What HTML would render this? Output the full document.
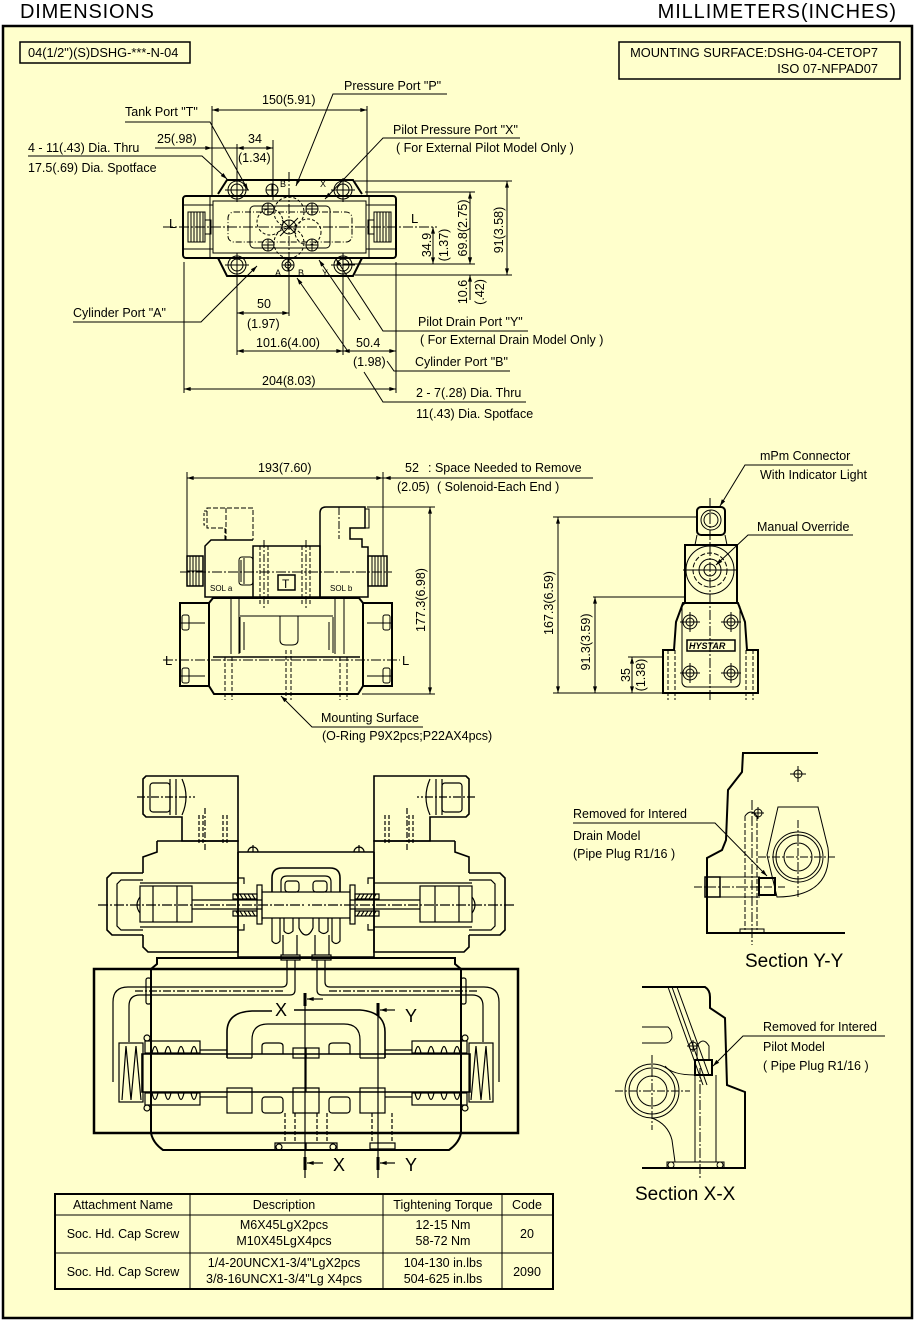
<!DOCTYPE html>
<html><head><meta charset="utf-8">
<style>
html,body{margin:0;padding:0;background:#fff;}
svg{display:block;font-family:"Liberation Sans",Arial,sans-serif;font-size:12.5px;}
text{fill:#000;stroke:none;}
</style></head><body>
<svg width="916" height="1325" viewBox="0 0 916 1325" xmlns="http://www.w3.org/2000/svg">
<defs>
<marker id="a" viewBox="0 0 10 6" refX="10" refY="3" markerWidth="9" markerHeight="4" markerUnits="userSpaceOnUse" orient="auto-start-reverse"><path d="M0,0 L10,3 L0,6 z" fill="#000"/></marker>
</defs>
<rect width="916" height="1325" fill="#fff"/>
<rect x="3" y="26" width="909" height="1292" fill="#FFFFCC" stroke="#000" stroke-width="2.5"/>
<text x="20" y="18" font-size="20" letter-spacing="0.8">DIMENSIONS</text>
<text x="897" y="18" font-size="20" text-anchor="end" letter-spacing="0.9">MILLIMETERS(INCHES)</text>

<!-- header boxes -->
<rect x="20" y="42" width="170" height="21" fill="none" stroke="#000" stroke-width="1.5"/>
<text x="28" y="57" font-size="12.8">04(1/2")(S)DSHG-***-N-04</text>
<rect x="619" y="42" width="281" height="37" fill="none" stroke="#000" stroke-width="1.5"/>
<text x="878" y="57" font-size="12.8" text-anchor="end">MOUNTING SURFACE:DSHG-04-CETOP7</text>
<text x="878" y="73" font-size="12.8" text-anchor="end">ISO 07-NFPAD07</text>

<!-- ================= TOP VIEW ================= -->
<g fill="none" stroke="#000" stroke-width="1">
 <path d="M218,194 L227,180 H353 L362,194" stroke-width="2"/>
 <path d="M218,258 L227,276 H353 L362,258" stroke-width="2"/>
 <rect x="183" y="196" width="213" height="62" rx="3" stroke-width="2"/>
 <rect x="213" y="201" width="153" height="52"/>
 <line x1="210" y1="196" x2="210" y2="258"/>
 <line x1="369" y1="196" x2="369" y2="258"/>
 <line x1="183" y1="205" x2="213" y2="205"/><line x1="183" y1="249" x2="213" y2="249"/>
 <line x1="366" y1="205" x2="396" y2="205"/><line x1="366" y1="249" x2="396" y2="249"/>
 <rect x="188" y="212" width="17" height="30"/>
 <path d="M191,212V242M194,212V242M197,212V242M200,212V242M203,212V242"/>
 <rect x="374" y="212" width="17" height="30"/>
 <path d="M377,212V242M380,212V242M383,212V242M386,212V242M389,212V242"/>
 <rect x="205" y="220" width="6" height="14"/><rect x="368" y="220" width="6" height="14"/>
 <rect x="228" y="212" width="124" height="30" rx="6" stroke-dasharray="6 2 1 2"/>
 <rect x="250" y="206" width="80" height="42" rx="4"/>
 <circle cx="237" cy="190" r="9"/><circle cx="237" cy="190" r="6"/>
 <circle cx="343" cy="190" r="9"/><circle cx="343" cy="190" r="6"/>
 <circle cx="237" cy="265" r="9"/><circle cx="237" cy="265" r="6"/>
 <circle cx="343" cy="265" r="9"/><circle cx="343" cy="265" r="6"/>
 <path d="M225,190H249M237,178V202M331,190H355M343,178V202M225,265H249M237,253V277M331,265H355M343,253V277"/>
 <circle cx="289" cy="212" r="15" stroke-dasharray="3 2"/>
 <circle cx="289" cy="243" r="15" stroke-dasharray="3 2"/>
 <circle cx="270" cy="222" r="13" stroke-dasharray="3 2"/>
 <circle cx="308" cy="232" r="13" stroke-dasharray="3 2"/>
 <circle cx="268" cy="209" r="6"/><circle cx="312" cy="209" r="6"/>
 <circle cx="268" cy="245" r="6"/><circle cx="312" cy="245" r="6"/>
 <circle cx="272" cy="190" r="6"/><circle cx="288" cy="265" r="6"/><circle cx="288" cy="265" r="3"/>
 <circle cx="289" cy="227" r="7"/>
 <path d="M262,209H274M268,203V215M306,209H318M312,203V215M262,245H274M268,239V251M306,245H318M312,239V251M266,190H278M272,184V196M282,265H294M288,259V271"/>
 <path d="M282,220L296,234M296,220L282,234M280,236L298,218"/>
 <line x1="163" y1="227" x2="437" y2="227" stroke-dasharray="10 2 2 2"/>
 <line x1="289" y1="172" x2="289" y2="282" stroke-dasharray="10 2 2 2"/>
 <line x1="212" y1="106" x2="212" y2="196"/>
 <line x1="367" y1="106" x2="367" y2="196"/>
 <line x1="212" y1="110" x2="367" y2="110" marker-start="url(#a)" marker-end="url(#a)"/>
 <line x1="155" y1="148" x2="212" y2="148" marker-end="url(#a)"/>
 <line x1="212" y1="148" x2="273" y2="148"/>
 <line x1="252" y1="148" x2="237" y2="148" marker-end="url(#a)"/>
 <line x1="258" y1="148" x2="273" y2="148" marker-end="url(#a)"/>
 <line x1="237" y1="144" x2="237" y2="200"/>
 <line x1="273" y1="140" x2="273" y2="200"/>
 <line x1="355" y1="181" x2="512" y2="181"/>
 <line x1="355" y1="275" x2="512" y2="275"/>
 <line x1="507" y1="181" x2="507" y2="275" marker-start="url(#a)" marker-end="url(#a)"/>
 <line x1="365" y1="192" x2="475" y2="192"/>
 <line x1="343" y1="264" x2="475" y2="264"/>
 <line x1="470" y1="192" x2="470" y2="264" marker-start="url(#a)" marker-end="url(#a)"/>
 <line x1="433" y1="227" x2="433" y2="264" marker-start="url(#a)" marker-end="url(#a)"/>
 <line x1="470" y1="250" x2="470" y2="264" marker-end="url(#a)"/>
 <line x1="470" y1="300" x2="470" y2="275" marker-end="url(#a)"/>
 <line x1="184" y1="262" x2="184" y2="393"/>
 <line x1="396" y1="262" x2="396" y2="393"/>
 <line x1="237" y1="272" x2="237" y2="355"/>
 <line x1="289" y1="275" x2="289" y2="316"/>
 <line x1="343" y1="272" x2="343" y2="355"/>
 <line x1="237" y1="313" x2="289" y2="313" marker-start="url(#a)" marker-end="url(#a)"/>
 <line x1="237" y1="351" x2="343" y2="351" marker-start="url(#a)" marker-end="url(#a)"/>
 <line x1="343" y1="351" x2="396" y2="351" marker-start="url(#a)" marker-end="url(#a)"/>
 <line x1="184" y1="389" x2="396" y2="389" marker-start="url(#a)" marker-end="url(#a)"/>
 <path d="M125,122 H210 L248,190" marker-end="url(#a)"/>
 <path d="M447,94 H333 L296,186" marker-end="url(#a)"/>
 <path d="M520,138 H383 L325,199" marker-end="url(#a)"/>
 <path d="M28,156 H202 L227,179" marker-end="url(#a)"/>
 <path d="M73,322 H201 L257,266" marker-end="url(#a)"/>
 <path d="M528,331 H383 L336,259" marker-end="url(#a)"/>
 <path d="M360,320 L319,260" marker-end="url(#a)"/>
 <path d="M510,371 H394 L387,361"/>
 <path d="M347,350 L297,278" marker-end="url(#a)"/>
 <path d="M526,402 H383 L364,372"/>
</g>
<g font-size="12.5">
 <text x="344" y="90">Pressure Port "P"</text>
 <text x="262" y="104">150(5.91)</text>
 <text x="125" y="116">Tank Port "T"</text>
 <text x="393" y="134">Pilot Pressure Port "X"</text>
 <text x="396" y="152">( For External Pilot Model Only )</text>
 <text x="28" y="152">4 - 11(.43) Dia. Thru</text>
 <text x="157" y="143">25(.98)</text>
 <text x="248" y="143">34</text>
 <text x="238" y="162">(1.34)</text>
 <text x="28" y="172">17.5(.69) Dia. Spotface</text>
 <text x="169" y="228" font-size="13">L</text>
 <text x="411" y="223" font-size="13">L</text>
 <text x="275" y="276" font-size="9">A</text>
 <text x="298" y="276" font-size="9">B</text>
 <text x="280" y="187" font-size="9">B</text>
 <text x="320" y="187" font-size="9">X</text>
 <text x="322" y="276" font-size="9">Y</text>
 <text transform="translate(503,230) rotate(-90)" text-anchor="middle">91(3.58)</text>
 <text transform="translate(467,228) rotate(-90)" text-anchor="middle">69.8(2.75)</text>
 <text transform="translate(431,245) rotate(-90)" text-anchor="middle">34.9</text>
 <text transform="translate(448,245) rotate(-90)" text-anchor="middle">(1.37)</text>
 <text transform="translate(467,292) rotate(-90)" text-anchor="middle">10.6</text>
 <text transform="translate(484,292) rotate(-90)" text-anchor="middle">(.42)</text>
 <text x="73" y="317">Cylinder Port "A"</text>
 <text x="257" y="308">50</text>
 <text x="247" y="328">(1.97)</text>
 <text x="256" y="347">101.6(4.00)</text>
 <text x="356" y="347">50.4</text>
 <text x="353" y="366">(1.98)</text>
 <text x="262" y="385">204(8.03)</text>
 <text x="418" y="326">Pilot Drain Port "Y"</text>
 <text x="420" y="344">( For External Drain Model Only )</text>
 <text x="415" y="366">Cylinder Port "B"</text>
 <text x="416" y="397">2 - 7(.28) Dia. Thru</text>
 <text x="416" y="418">11(.43) Dia. Spotface</text>
</g>

<!-- ================= FRONT VIEW ================= -->
<g fill="none" stroke="#000" stroke-width="1">
 <line x1="187" y1="472" x2="187" y2="556"/>
 <line x1="383" y1="472" x2="383" y2="556"/>
 <line x1="187" y1="478" x2="383" y2="478" marker-start="url(#a)" marker-end="url(#a)"/>
 <line x1="383" y1="478" x2="593" y2="478"/>
 <line x1="402" y1="478" x2="384" y2="478" marker-end="url(#a)"/>
 <path d="M225,540 V528 H207 V508 H253 V540" stroke-dasharray="5 2"/>
 <path d="M207,511 H204 V525 H207" stroke-dasharray="3 2"/>
 <path d="M226,508 V540" stroke-dasharray="5 2"/>
 <path d="M253,540 H211 L205,546 V597 H253" stroke-width="1.5"/>
 <rect x="239" y="557" width="14" height="28" rx="3"/>
 <path d="M241,560V582M244,558V584"/>
 <rect x="187" y="556" width="16" height="30" stroke-width="1.5"/>
 <path d="M190,556V586M193,556V586M196,556V586M199,556V586M187,571H203"/>
 <rect x="253" y="546" width="67" height="51" stroke-width="1.5"/>
 <path d="M260,546V605M268,546V605M302,546V605M310,546V605" stroke-dasharray="4 2"/>
 <path d="M264,540V610M306,540V610" stroke-dasharray="8 2 2 2"/>
 <rect x="278" y="575" width="17" height="15" stroke-width="1.5"/>
 <path d="M320,597 V513 Q320,507 326,507 H365 V528 H350 V539 H362 V547 H368 V597 Z" stroke-width="1.5"/>
 <rect x="365" y="509" width="4" height="19"/>
 <line x1="339" y1="507" x2="339" y2="539" stroke-dasharray="8 2 2 2"/>
 <rect x="368" y="556" width="19" height="30" stroke-width="1.5"/>
 <path d="M372,556V586M375,556V586M378,556V586M381,556V586M384,556V586"/>
 <line x1="180" y1="572" x2="392" y2="572" stroke-dasharray="10 2 2 2"/>
 <rect x="180" y="603" width="29" height="83" stroke-width="2"/>
 <rect x="363" y="603" width="29" height="83" stroke-width="2"/>
 <rect x="182" y="615" width="7" height="15" rx="2"/><rect x="182" y="668" width="7" height="15" rx="2"/>
 <rect x="383" y="615" width="7" height="15" rx="2"/><rect x="383" y="668" width="7" height="15" rx="2"/>
 <path d="M180,623H205M180,676H205M367,623H392M367,676H392"/>
 <path d="M209,603 L213,598 H359 L363,603 V686 L358,694 H214 L209,686 Z" stroke-width="2"/>
 <line x1="213" y1="657" x2="360" y2="657" stroke-width="1.5"/>
 <path d="M231,598V654M239,598V654M335,598V654M344,598V654"/>
 <path d="M240,616 H333 M240,617 V653 M333,617 V653"/>
 <path d="M280,616 V640 Q280,645 286,645 H292 Q298,645 298,640 V616"/>
 <path d="M244,622 V650 M329,622 V650"/>
 <path d="M225,657V700M232,657V700M286,650V700M291,650V700M340,657V700M347,657V700" stroke-dasharray="4 2"/>
 <line x1="163" y1="660" x2="400" y2="660" stroke-dasharray="10 2 2 2"/>
 <line x1="367" y1="507" x2="435" y2="507"/>
 <line x1="362" y1="694" x2="435" y2="694"/>
 <line x1="430" y1="507" x2="430" y2="694" marker-start="url(#a)" marker-end="url(#a)"/>
 <path d="M423,727 H312 L281,696" marker-end="url(#a)"/>
</g>
<g font-size="12.5">
 <text x="258" y="472">193(7.60)</text>
 <text x="405" y="472">52</text>
 <text x="428" y="472">: Space Needed to Remove</text>
 <text x="397" y="491">(2.05)</text>
 <text x="437" y="491">( Solenoid-Each End )</text>
 <text x="210" y="591" font-size="8">SOL a</text>
 <text x="330" y="591" font-size="8">SOL b</text>
 <text x="282" y="588" font-size="12">T</text>
 <text x="165" y="665" font-size="13">L</text>
 <text x="402" y="665" font-size="13">L</text>
 <text transform="translate(425,600) rotate(-90)" text-anchor="middle">177.3(6.98)</text>
 <text x="321" y="722">Mounting Surface</text>
 <text x="322" y="740">(O-Ring P9X2pcs;P22AX4pcs)</text>
</g>

<!-- ================= SIDE VIEW ================= -->
<g fill="none" stroke="#000" stroke-width="1">
 <rect x="697" y="507" width="28" height="28" rx="4" stroke-width="2"/>
 <circle cx="711" cy="520" r="10"/><circle cx="711" cy="520" r="7"/>
 <path d="M697,535 L695,545 M725,535 L727,545"/>
 <rect x="685" y="545" width="52" height="58" stroke-width="2"/>
 <circle cx="710" cy="570" r="24"/><circle cx="710" cy="570" r="17" stroke-dasharray="5 2"/><circle cx="710" cy="570" r="11"/><circle cx="710" cy="570" r="6"/>
 <path d="M683,570H737"/>
 <path d="M683,603 H738 L745,622 L747,650 H758 V693 H663 V650 H674 L676,622 Z" stroke-width="2"/>
 <rect x="682" y="603" width="58" height="84" rx="5"/>
 <path d="M668,650V700M675,650V700M746,650V700M753,650V700" stroke-dasharray="4 2"/>
 <line x1="710" y1="498" x2="710" y2="700" stroke-dasharray="10 2 2 2"/>
 <circle cx="690" cy="622" r="7"/><circle cx="690" cy="622" r="4"/>
 <circle cx="731" cy="622" r="7"/><circle cx="731" cy="622" r="4"/>
 <circle cx="690" cy="673" r="7"/><circle cx="690" cy="673" r="4"/>
 <circle cx="731" cy="673" r="7"/><circle cx="731" cy="673" r="4"/>
 <path d="M680,622H700M690,612V632M721,622H741M731,612V632M680,673H700M690,663V683M721,673H741M731,663V683"/>
 <rect x="687" y="640" width="48" height="11" stroke-width="1.5"/>
 <line x1="553" y1="517" x2="697" y2="517"/>
 <line x1="593" y1="597" x2="685" y2="597"/>
 <line x1="628" y1="657" x2="663" y2="657"/>
 <line x1="553" y1="693" x2="663" y2="693"/>
 <line x1="558" y1="517" x2="558" y2="693" marker-start="url(#a)" marker-end="url(#a)"/>
 <line x1="595" y1="597" x2="595" y2="693" marker-start="url(#a)" marker-end="url(#a)"/>
 <line x1="632" y1="657" x2="632" y2="693" marker-start="url(#a)" marker-end="url(#a)"/>
 <path d="M853,465 H745 L720,506" marker-end="url(#a)"/>
 <path d="M853,535 H748 L716,565" marker-end="url(#a)"/>
</g>
<g font-size="12.5">
 <text x="689" y="649" font-size="9" font-weight="bold" font-style="italic">HYSTAR</text>
 <text x="760" y="460">mPm Connector</text>
 <text x="760" y="479">With Indicator Light</text>
 <text x="757" y="531">Manual Override</text>
 <text transform="translate(553,603) rotate(-90)" text-anchor="middle">167.3(6.59)</text>
 <text transform="translate(590,642) rotate(-90)" text-anchor="middle">91.3(3.59)</text>
 <text transform="translate(630,675) rotate(-90)" text-anchor="middle">35</text>
 <text transform="translate(645,675) rotate(-90)" text-anchor="middle">(1.38)</text>
</g>

<!-- ================= BIG SECTION ================= -->
<g id="half" fill="none" stroke="#000" stroke-width="1.2">
 <path d="M143,779 L146,776 H238 V841 H182 V817 H146 L143,814 Z" stroke-width="1.6"/>
 <rect x="150" y="783" width="20" height="29" rx="3"/>
 <path d="M170,779V815M176,779V815M182,779 Q190,797 182,815"/>
 <path d="M199,815V845M203,815V845M223,815V845M227,815V845" stroke-dasharray="4 2"/>
 <path d="M198,841H228"/>
 <line x1="205" y1="808" x2="205" y2="852" stroke-dasharray="6 2 2 2"/>
 <line x1="137" y1="797" x2="195" y2="797" stroke-dasharray="8 2 2 2"/>
 <path d="M157,841 H238 V952 H148 L143,947 V935 M143,873 V857 L157,852 V841" stroke-width="1.6"/>
 <path d="M143,873 H112 L107,878 V930 L112,935 H143" stroke-width="1.6"/>
 <path d="M143,880 H121 L117,884 V926 L121,930 H143"/>
 <path d="M140,883 H238 M140,927 H238"/>
 <rect x="140" y="886" width="52" height="36"/>
 <path d="M153,886V922M177,886V922M140,897 Q134,905 140,913"/>
 <path d="M192,900 H262 M192,909 H262"/>
 <line x1="98" y1="905" x2="306" y2="905" stroke-dasharray="10 2 2 2"/>
 <path d="M238,852 H306 M238,957 H306 M238,852 V957" stroke-width="1.6"/>
 <path d="M248,852 A5,5 0 0 1 258,852 M253,845 V852"/>
 <path d="M238,878 H244 V884 M238,930 H244 V924"/>
 <path d="M233,894 h24 v5 h-24 z M233,911 h24 v5 h-24 z"/>
 <path d="M236,894l3,5M240,894l3,5M244,894l3,5M248,894l3,5M252,894l3,5M236,911l3,5M240,911l3,5M244,911l3,5M248,911l3,5M252,911l3,5"/>
 <rect x="257" y="885" width="5" height="39"/>
 <path d="M262,892 H306 M262,918 H306 M262,889 V921"/>
 <path d="M272,892 V878 Q272,868 282,868 H306" stroke-width="1.6"/>
 <path d="M281,892 V882 Q281,876 287,876 H306"/>
 <rect x="285" y="881" width="14" height="11" rx="3"/>
 <path d="M272,918 V941 Q276,946 280,941 V918 M284,918 V931 Q288,936 293,931 V918 M299,918 V928 Q302,935 306,935"/>
 <path d="M283,935 V955 M297,935 V955"/>
 <rect x="281" y="955" width="19" height="5"/>
 <path d="M306,969 H94 V1133 H306" stroke-width="2.5"/>
 <path d="M306,958 H157 V964 L151,969 V1133 Q153,1143 163,1150 H306" stroke-width="2"/>
 <rect x="146" y="978" width="5" height="26" rx="2"/>
 <path d="M287,960 V982 Q287,987 282,987 H128 Q113,987 113,1002 V1082"/>
 <path d="M295,960 V990 Q295,995 290,995 H140 Q129,995 129,1006 V1042"/>
 <line x1="135" y1="991" x2="285" y2="991" stroke-dasharray="8 2 2 2"/>
 <rect x="119" y="1043" width="24" height="59"/>
 <path d="M122,1100 L126,1046 L131,1100 L136,1046 L141,1100"/>
 <path d="M306,1054 H142 V1092 H306" stroke-width="1.6"/>
 <rect x="145" y="1041" width="55" height="12"/>
 <path d="M152,1053 Q155,1040 158,1053 M165,1053 Q168,1040 171,1053 M178,1053 Q181,1040 184,1053 M191,1053 Q194,1040 197,1053"/>
 <rect x="145" y="1093" width="55" height="12"/>
 <path d="M152,1093 Q155,1106 158,1093 M165,1093 Q168,1106 171,1093 M178,1093 Q181,1106 184,1093 M191,1093 Q194,1106 197,1093"/>
 <circle cx="147" cy="1038" r="3"/><circle cx="147" cy="1108" r="3"/>
 <path d="M200,1050 H227 M200,1097 H227"/>
 <path d="M227,1058 H252 M252,1058 V1040 Q252,1024 268,1024 H306"/>
 <path d="M262,1054 V1046 Q262,1043 266,1043 H279 Q283,1043 283,1046 V1054"/>
 <rect x="293" y="1048" width="13" height="10"/>
 <rect x="227" y="1088" width="25" height="25"/>
 <rect x="262" y="1097" width="21" height="16" rx="3"/>
 <path d="M306,1088 H293 V1113 H306"/>
 <path d="M285,1113V1143M295,1113V1143" stroke-dasharray="4 2"/>
 <path d="M275,1143 H306 V1150 H275 Z"/>
 <circle cx="279" cy="1147" r="3"/>
</g>
<use href="#half" transform="matrix(-1 0 0 1 612 0)"/>
<g fill="none" stroke="#000" stroke-width="1.2">
 <path d="M227,1058 V1032 Q227,1012 252,1011 H272 M294,1010 H360 Q385,1012 385,1032 V1058" stroke-width="1.6"/>
 <line x1="306" y1="1054" x2="306" y2="1092"/>
 <path d="M372,1113V1143M392,1113V1143" stroke-dasharray="4 2"/>
 <rect x="370" y="1143" width="25" height="6"/>
 <line x1="305" y1="993" x2="305" y2="1178"/>
 <line x1="305" y1="993" x2="305" y2="1006" stroke-width="3"/>
 <line x1="323" y1="999" x2="307" y2="999" marker-end="url(#a)"/>
 <line x1="378" y1="1003" x2="378" y2="1178"/>
 <line x1="378" y1="1003" x2="378" y2="1016" stroke-width="3"/>
 <line x1="395" y1="1010" x2="380" y2="1010" marker-end="url(#a)"/>
 <line x1="305" y1="1157" x2="305" y2="1170" stroke-width="3"/>
 <line x1="323" y1="1163" x2="307" y2="1163" marker-end="url(#a)"/>
 <line x1="378" y1="1157" x2="378" y2="1170" stroke-width="3"/>
 <line x1="395" y1="1163" x2="380" y2="1163" marker-end="url(#a)"/>
</g>
<g font-size="18">
 <text x="275" y="1016">X</text>
 <text x="405" y="1022">Y</text>
 <text x="333" y="1171">X</text>
 <text x="405" y="1171">Y</text>
</g>

<!-- ================= SECTION Y-Y ================= -->
<g fill="none" stroke="#000" stroke-width="1">
 <path d="M818,753 H743 L742,772 L728,790 L726,840 L722,850 L707,858 V933 H845" stroke-width="2"/>
 <circle cx="798" cy="774" r="4"/><path d="M790,774H806M798,766V782"/>
 <path d="M778,807 H818 L828,848 Q832,885 800,894 Q790,897 777,897 L767,855 Z"/>
 <circle cx="798" cy="857" r="25"/><circle cx="798" cy="857" r="22"/><circle cx="798" cy="857" r="14"/>
 <path d="M758,857H835M798,820V897" stroke-dasharray="8 2 2 2"/>
 <path d="M745,816V930M757,816V930" stroke-dasharray="5 2"/>
 <path d="M745,816 Q751,808 757,816"/>
 <circle cx="758" cy="813" r="4"/><path d="M752,813H764M758,807V819"/>
 <line x1="752" y1="800" x2="752" y2="945" stroke-dasharray="10 2 2 2"/>
 <rect x="740" y="929" width="24" height="4"/>
 <path d="M720,877H760M720,897H760"/>
 <rect x="705" y="877" width="15" height="20" stroke-width="1.5"/>
 <rect x="759" y="878" width="16" height="17" stroke-width="2"/>
 <line x1="694" y1="887" x2="785" y2="887" stroke-dasharray="8 2 2 2"/>
 <path d="M573,823 H715 L767,876" marker-end="url(#a)"/>
</g>
<g font-size="12.5">
 <text x="573" y="818">Removed for Intered</text>
 <text x="573" y="840">Drain Model</text>
 <text x="573" y="858">(Pipe Plug R1/16 )</text>
 <text x="745" y="967" font-size="19">Section Y-Y</text>
</g>

<!-- ================= SECTION X-X ================= -->
<g fill="none" stroke="#000" stroke-width="1">
 <path d="M642,987 H705 Q710,990 710,997 V1008 L725,1018 L727,1085 L745,1092 V1168 H642" stroke-width="2"/>
 <path d="M642,1027 H668 Q672,1030 672,1038 Q670,1043 665,1043 H642"/>
 <circle cx="652" cy="1091" r="27"/><circle cx="652" cy="1091" r="23"/><circle cx="652" cy="1091" r="15"/>
 <path d="M652,1118 Q668,1124 672,1140 L675,1162 M665,1066 Q672,1075 695,1075"/>
 <path d="M615,1091H690M652,1055V1130" stroke-dasharray="8 2 2 2"/>
 <path d="M695,1075V1162M716,1075V1162"/>
 <rect x="667" y="1162" width="57" height="6"/>
 <circle cx="671" cy="1165" r="3"/><circle cx="720" cy="1165" r="3"/>
 <path d="M668,987 L703,1085 M672,987 L707,1085 M677,987 L709,1075"/>
 <rect x="695" y="1060" width="17" height="15" stroke-width="2"/>
 <path d="M697,1060 V1046 Q703,1036 709,1046 V1060"/>
 <circle cx="693" cy="1046" r="4"/><path d="M687,1046H699M693,1040V1052"/>
 <line x1="700" y1="1068" x2="700" y2="1180" stroke-dasharray="10 2 2 2"/>
 <path d="M885,1036 H743 L713,1066" marker-end="url(#a)"/>
</g>
<g font-size="12.5">
 <text x="763" y="1031">Removed for Intered</text>
 <text x="763" y="1051">Pilot Model</text>
 <text x="763" y="1070">( Pipe Plug R1/16 )</text>
 <text x="635" y="1200" font-size="19">Section X-X</text>
</g>

<!-- ================= TABLE ================= -->
<g fill="none" stroke="#000">
 <rect x="55" y="1194" width="498" height="95" stroke-width="2"/>
 <path d="M190,1194V1289M383,1194V1289M502,1194V1289M55,1215H553M55,1253H553" stroke-width="1"/>
</g>
<g font-size="12.5" text-anchor="middle">
 <text x="123" y="1209">Attachment Name</text>
 <text x="284" y="1209">Description</text>
 <text x="443" y="1209">Tightening Torque</text>
 <text x="527" y="1209">Code</text>
 <text x="123" y="1238">Soc. Hd. Cap Screw</text>
 <text x="284" y="1229">M6X45LgX2pcs</text>
 <text x="284" y="1245">M10X45LgX4pcs</text>
 <text x="443" y="1229">12-15 Nm</text>
 <text x="443" y="1245">58-72 Nm</text>
 <text x="527" y="1238">20</text>
 <text x="123" y="1276">Soc. Hd. Cap Screw</text>
 <text x="284" y="1267">1/4-20UNCX1-3/4"LgX2pcs</text>
 <text x="284" y="1283">3/8-16UNCX1-3/4"Lg X4pcs</text>
 <text x="443" y="1267">104-130 in.lbs</text>
 <text x="443" y="1283">504-625 in.lbs</text>
 <text x="527" y="1276">2090</text>
</g>
</svg>
</body></html>
